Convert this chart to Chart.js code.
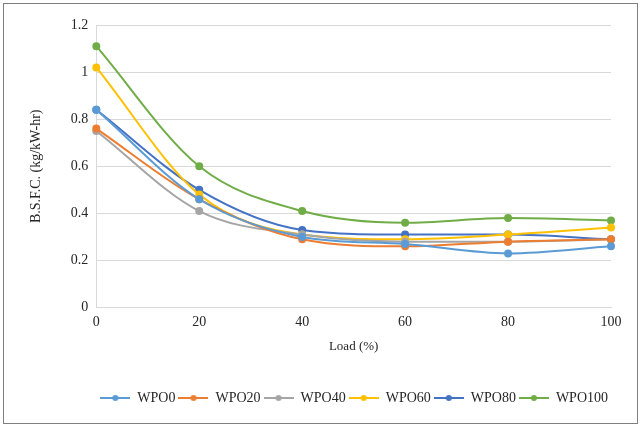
<!DOCTYPE html>
<html>
<head>
<meta charset="utf-8">
<script src="https://cdn.jsdelivr.net/npm/chart.js@4"></script>
<style>
  body { margin: 0; background: #fff; }
  #wrap { width: 641px; height: 427px; }
</style>
</head>
<body>
<div id="wrap"><canvas id="bsfcChart" width="641" height="427"></canvas></div>
<script>
// données
const loads = ['0', '20', '40', '60', '80', '100'];
const wpo0   = [0.84, 0.46, 0.30, 0.27, 0.23, 0.26];
const wpo20  = [0.76, 0.46, 0.29, 0.26, 0.28, 0.29];
const wpo40  = [0.75, 0.41, 0.31, 0.28, 0.28, 0.29];
const wpo60  = [1.02, 0.48, 0.31, 0.29, 0.31, 0.34];
const wpo80  = [0.84, 0.50, 0.33, 0.31, 0.31, 0.29];
const wpo100 = [1.11, 0.60, 0.41, 0.36, 0.38, 0.37];
const seriesNames = ['WPO0', 'WPO20', 'WPO40', 'WPO60', 'WPO80', 'WPO100'];
const seriesColors = ['#5B9BD5', '#ED7D31', '#A5A5A5', '#FFC000', '#4472C4', '#70AD47'];
const seriesData = [wpo0, wpo20, wpo40, wpo60, wpo80, wpo100];

const serif = "'Liberation Serif', 'Times New Roman', serif";

// petite image ligne + point pour la légende
function legendMarker(color) {
    const c = document.createElement('canvas');
    c.width = 30; c.height = 10;
    const g = c.getContext('2d');
    g.strokeStyle = color;
    g.lineWidth = 2;
    g.beginPath(); g.moveTo(0, 5); g.lineTo(30, 5); g.stroke();
    g.fillStyle = color;
    g.beginPath(); g.arc(15, 5, 3, 0, Math.PI * 2); g.fill();
    return c;
}

const datasets = seriesNames.map((name, i) => ({
    label: name,
    data: seriesData[i],
    borderColor: seriesColors[i],
    backgroundColor: seriesColors[i],
    borderWidth: 2,
    pointRadius: 3,
    pointHoverRadius: 3,
    tension: 0.4,
    cubicInterpolationMode: 'monotone',
    pointStyle: 'circle'
}));

const frame = {
    id: 'frame',
    beforeDraw(chart) {
        const ctx = chart.ctx;
        ctx.save();
        ctx.fillStyle = '#fff';
        ctx.fillRect(0, 0, chart.width, chart.height);
        ctx.strokeStyle = '#7f7f7f';
        ctx.lineWidth = 1;
        ctx.strokeRect(3.5, 3.5, chart.width - 7, chart.height - 7);
        ctx.restore();
    }
};

const markers = seriesColors.map(legendMarker);

new Chart(document.getElementById('bsfcChart').getContext('2d'), {
    type: 'line',
    data: { labels: loads, datasets: datasets },
    plugins: [frame],
    options: {
        responsive: false,
        animation: false,
        layout: { padding: { left: 24, right: 30, top: 25, bottom: 12 } },
        plugins: {
            tooltip: { enabled: false },
            legend: {
                position: 'bottom',
                align: 'end',
                labels: {
                    font: { family: serif, size: 14 },
                    color: '#262626',
                    usePointStyle: true,
                    pointStyleWidth: 30,
                    padding: 3,
                    generateLabels(chart) {
                        return chart.data.datasets.map((ds, i) => ({
                            text: ds.label,
                            pointStyle: markers[i],
                            fillStyle: ds.borderColor,
                            strokeStyle: ds.borderColor,
                            lineWidth: 0,
                            hidden: false,
                            datasetIndex: i,
                            fontColor: '#262626'
                        }));
                    }
                }
            }
        },
        scales: {
            x: {
                offset: false,
                grid: { display: false, drawTicks: false },
                border: { color: '#d9d9d9' },
                ticks: { font: { family: serif, size: 14 }, color: '#262626', padding: 6 },
                title: { display: true, text: 'Load (%)', font: { family: serif, size: 13 }, color: '#262626', padding: { top: 2, bottom: 34 } }
            },
            y: {
                min: 0,
                max: 1.2,
                ticks: {
                    stepSize: 0.2,
                    font: { family: serif, size: 14 },
                    color: '#262626',
                    padding: 8,
                    callback: v => String(+v.toFixed(1))
                },
                grid: { color: '#d9d9d9', drawTicks: false },
                border: { color: '#d9d9d9' },
                title: { display: true, text: 'B.S.F.C. (kg/kW-hr)', font: { family: serif, size: 14 }, color: '#262626', padding: { bottom: 18 } }
            }
        }
    }
});
</script>
</body>
</html>
